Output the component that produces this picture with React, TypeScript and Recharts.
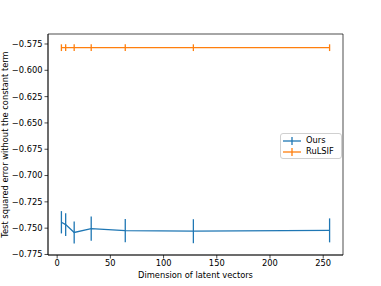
import React from 'react';
import { ComposedChart, Line, XAxis, YAxis, ErrorBar, Legend, ReferenceArea } from 'recharts';

const dims = [4, 8, 16, 32, 64, 128, 256];
const oursMean = [-0.7444, -0.7466, -0.7541, -0.7504, -0.7523, -0.7529, -0.7521];
const oursErr = [0.0106, 0.0108, 0.0104, 0.0116, 0.0111, 0.0114, 0.0114];
const rulsifMean = [-0.5785, -0.5785, -0.5785, -0.5785, -0.5785, -0.5785, -0.5785];
const rulsifErr = [0.0032, 0.0032, 0.0032, 0.0032, 0.0032, 0.0032, 0.0032];
const xTicks = [0, 50, 100, 150, 200, 250];
const yTicks = [-0.575, -0.6, -0.625, -0.65, -0.675, -0.7, -0.725, -0.75, -0.775];

const data = dims.map((d, i) => ({
  dim: d,
  ours: oursMean[i],
  oursErr: oursErr[i],
  rulsif: rulsifMean[i],
  rulsifErr: rulsifErr[i],
}));

const FONT = 'DejaVu Sans, sans-serif';
const FS = 8.3;
const BLUE = '#1f77b4';
const ORANGE = '#ff7f0e';
const X_DOMAIN: [number, number] = [-8.6, 268.6];
const Y_DOMAIN: [number, number] = [-0.7755, -0.5655];

const fmtY = (v: number) => (v < 0 ? '\u2212' : '') + Math.abs(v).toFixed(3);

const renderLegend = (props: any) => {
  const payload = props.payload || [];
  return (
    <div
      style={{
        border: '1px solid #d0d0d0',
        borderRadius: 3,
        background: 'rgba(255,255,255,0.8)',
        padding: '1px 4px 1px 2px',
        fontFamily: FONT,
        fontSize: FS,
        color: '#000',
        boxSizing: 'border-box',
      }}
    >
      {payload.map((p: any) => (
        <div key={p.value} style={{ display: 'flex', alignItems: 'center', height: 11 }}>
          <svg width={18} height={10} style={{ marginRight: 5 }}>
            <line x1={0} y1={5} x2={18} y2={5} stroke={p.color} strokeWidth={1.3} />
            <line x1={9} y1={1} x2={9} y2={9} stroke={p.color} strokeWidth={1.3} />
          </svg>
          <span style={{ lineHeight: '11px' }}>{p.value}</span>
        </div>
      ))}
    </div>
  );
};

export default function App() {
  return (
    <div style={{ position: 'absolute', left: 0, top: 0, width: 381, height: 286, background: '#fff' }}>
      <ComposedChart
        width={381}
        height={286}
        data={data}
        margin={{ top: 34, right: 38, left: 8, bottom: 0 }}
      >
        <XAxis
          dataKey="dim"
          type="number"
          domain={X_DOMAIN}
          allowDataOverflow
          ticks={xTicks}
          height={31}
          tickSize={3.5}
          tickMargin={1.5}
          stroke="#000"
          strokeWidth={0.7}
          tick={{ fill: '#000', fontSize: FS, fontFamily: FONT }}
          label={{
            value: 'Dimension of latent vectors',
            position: 'insideBottom',
            offset: 8,
            fill: '#000',
            fontSize: FS,
            fontFamily: FONT,
          }}
        />
        <YAxis
          type="number"
          domain={Y_DOMAIN}
          allowDataOverflow
          ticks={yTicks}
          width={40}
          tickSize={3.5}
          tickMargin={2}
          tickFormatter={fmtY}
          stroke="#000"
          strokeWidth={0.7}
          tick={{ fill: '#000', fontSize: FS, fontFamily: FONT }}
          label={() => (
            <text
              x={8}
              y={144.5}
              transform="rotate(-90 8 144.5)"
              textAnchor="middle"
              fill="#000"
              fontSize={FS}
              fontFamily={FONT}
            >
              Test squared error without the constant term
            </text>
          )}
        />
        <ReferenceArea
          x1={X_DOMAIN[0]}
          x2={X_DOMAIN[1]}
          y1={Y_DOMAIN[0]}
          y2={Y_DOMAIN[1]}
          fill="none"
          fillOpacity={0}
          stroke="#000"
          strokeWidth={0.7}
          strokeOpacity={1}
          ifOverflow="visible"
        />
        <Legend
          layout="vertical"
          align="center"
          verticalAlign="middle"
          content={renderLegend}
          wrapperStyle={{ position: 'absolute', left: 280, top: 133, width: 62 }}
        />
        <Line
          dataKey="ours"
          name="Ours"
          stroke={BLUE}
          strokeWidth={1.3}
          dot={false}
          activeDot={false}
          isAnimationActive={false}
        >
          <ErrorBar dataKey="oursErr" direction="y" width={0} stroke={BLUE} strokeWidth={1.3} isAnimationActive={false} />
        </Line>
        <Line
          dataKey="rulsif"
          name="RuLSIF"
          stroke={ORANGE}
          strokeWidth={1.3}
          dot={false}
          activeDot={false}
          isAnimationActive={false}
        >
          <ErrorBar dataKey="rulsifErr" direction="y" width={0} stroke={ORANGE} strokeWidth={1.3} isAnimationActive={false} />
        </Line>
      </ComposedChart>
    </div>
  );
}
